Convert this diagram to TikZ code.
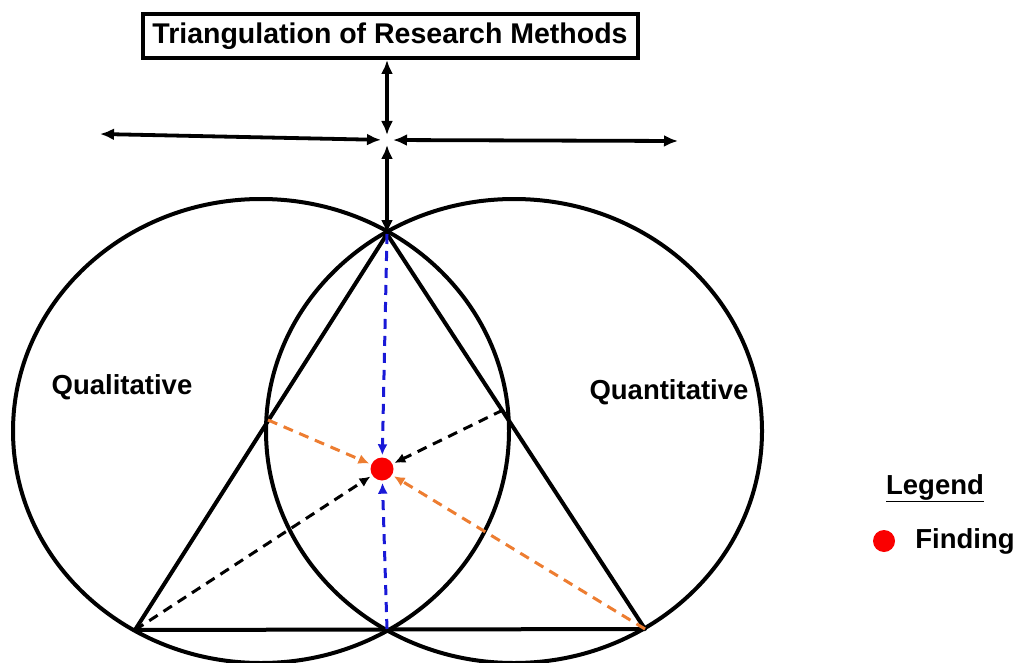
\documentclass[tikz,border=0pt]{standalone}
\usepackage{fontspec}
\setmainfont{Liberation Sans}
\usepackage{xcolor}
\usepackage{tikz}
\usetikzlibrary{arrows.meta, positioning}

\definecolor{probeblue}{RGB}{25,25,215}
\definecolor{probeorange}{RGB}{237,125,49}
\definecolor{findred}{RGB}{250,0,0}

\tikzset{
    ring/.style={draw, line width=4pt},
    link/.style={{Latex[length=14pt, width=12pt]}-{Latex[length=14pt, width=12pt]}, line width=3.8pt},
    probe/.style={-{Latex[length=11pt, width=10pt]}, dash pattern=on 10pt off 7pt, line width=3pt, shorten >=2pt},
    tag/.style={font=\bfseries\fontsize{27.5}{30}\selectfont, inner sep=0pt},
    dot/.style={circle, fill=findred, minimum size=23pt, inner sep=0pt}
}

\begin{document}
\begin{tikzpicture}[x=1pt, y=-1pt]
    \useasboundingbox (0,0) rectangle (1019,663);

    % Methods as two overlapping circles
    \draw[ring] (261,431) ellipse [x radius=248, y radius=232];
    \draw[ring] (514,431) ellipse [x radius=248, y radius=232];
    \node[tag] (qual) at (122,387) {Qualitative};
    \node[tag] (quant) at (669,392) {Quantitative};

    % Triangle points
    \coordinate (apex) at (387,234);
    \coordinate (baseL) at (135,630);
    \coordinate (baseR) at (645,629);
    \coordinate (baseM) at (387,629);
    \coordinate (sideL) at (268,420);
    \coordinate (sideR) at (503,410);
    \draw[ring, line join=round] (apex) -- (baseL) -- (baseR) -- cycle;

    % Finding in the middle
    \node[dot] (finding) at (382,469) {};

    % Dashed lines to the finding
    \draw[probe, probeblue] (apex) -- (finding);
    \draw[probe, probeblue] (baseM) -- (finding);
    \draw[probe, probeorange] (sideL) -- (finding);
    \draw[probe, probeorange] (baseR) -- (finding);
    \draw[probe, black] (sideR) -- (finding);
    \draw[probe, black] (baseL) -- (finding);

    % Title and the cross of arrows
    \node[draw, line width=4pt, font=\bfseries\fontsize{28.5}{30}\selectfont,
          minimum width=495pt, minimum height=44pt, inner sep=0pt] (title) at (390,36)
        {Triangulation of Research Methods};
    \coordinate (hub) at (387,140);
    \coordinate (westend) at (100,134);
    \coordinate (eastend) at (678,141);
    \draw[link, shorten >=5pt] (title.south -| hub) -- (hub);
    \draw[link, shorten <=5pt] (hub) -- (apex);
    \draw[link, shorten >=6pt] (westend) -- (hub);
    \draw[link, shorten <=6pt] (hub) -- (eastend);

    % Legend
    \node[tag] (legend) at (935,488) {\underline{Legend}};
    \node[dot, minimum size=22pt] (key) at (884,541) {};
    \node[tag, right=20pt of key] (keytext) {Finding};
\end{tikzpicture}
\end{document}
